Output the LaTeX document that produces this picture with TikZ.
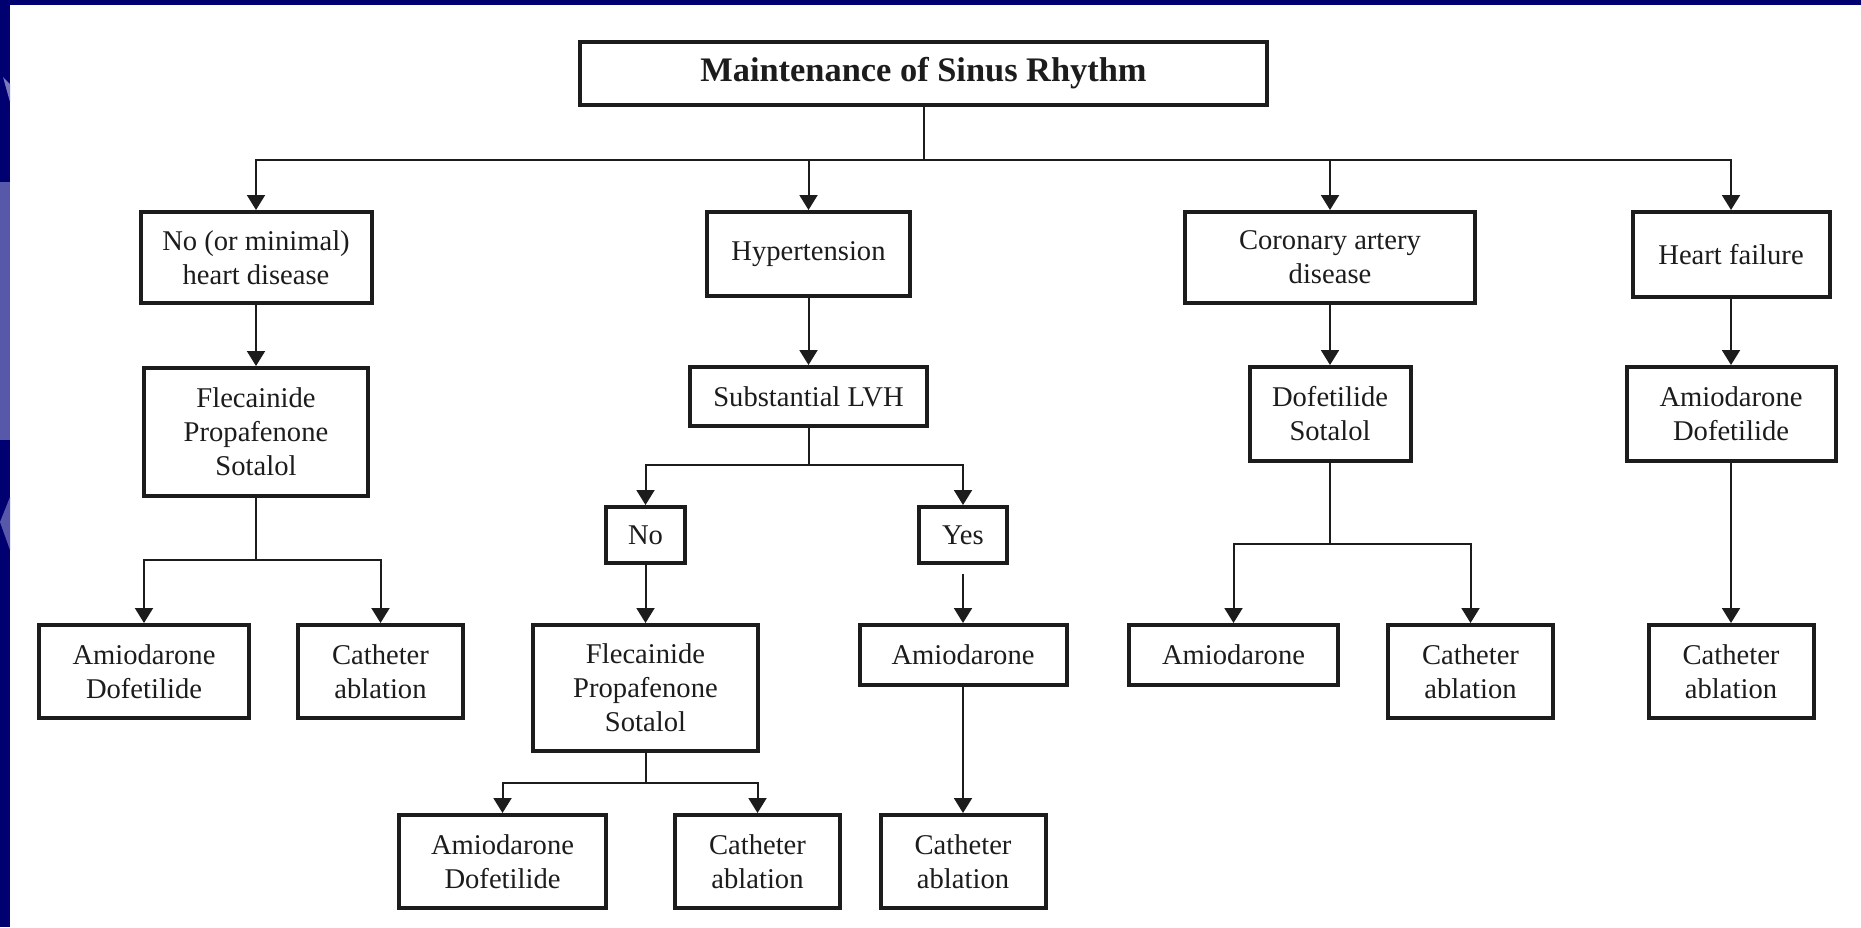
\documentclass[tikz,border=0pt]{standalone}
\usepackage{fontspec}
\setmainfont{Liberation Serif}
\usetikzlibrary{arrows.meta,positioning}
\definecolor{navy}{RGB}{0,0,112}
\definecolor{periwinkle}{RGB}{88,88,170}
\definecolor{ink}{RGB}{28,28,28}

\begin{document}
\begin{tikzpicture}[x=0.5pt, y=-0.5pt,
  every node/.style={font=\fontsize{14.3}{17}\selectfont, text=ink},
  box/.style={draw=ink, rectangle, line width=2pt, align=center, inner sep=0pt},
  wh/.style 2 args={minimum width=#1*0.5pt, minimum height=#2*0.5pt},
  link/.style={draw=ink, line width=1pt},
  arr/.style={link, -{Triangle[width=9pt,length=7.5pt]}}]
\useasboundingbox (0,0) rectangle (1861,927);
\fill[white] (0,0) rectangle (1861,927);
\fill[navy] (0,0) rectangle (1861,5);
\fill[navy] (0,0) rectangle (10,927);
\fill[periwinkle] (0,182) rectangle (10,440);
\fill[periwinkle!80] (3,77) -- (10,84) -- (10,102) -- cycle;
\fill[periwinkle] (10,497) -- (0,522) -- (10,550) -- cycle;

\node[box, wh={687}{63}, font=\bfseries\fontsize{17.2}{20}\selectfont] (title) at (923.5,73.5) {Maintenance of Sinus Rhythm};

\node[box, wh={231}{91}] (nomin) at (256,257.5) {No (or minimal)\\heart disease};
\node[box, wh={203}{84}] (hyper) at (808.5,254) {Hypertension};
\node[box, wh={290}{91}] (cad) at (1330,257.5) {Coronary artery\\disease};
\node[box, wh={197}{85}] (hf) at (1731,254.5) {Heart failure};

\node[box, wh={224}{128}] (fleA) at (256,432) {Flecainide\\Propafenone\\Sotalol};
\node[box, wh={237}{59}] (lvh) at (808.5,396.5) {Substantial LVH};
\node[box, wh={161}{94}] (dofsot) at (1330,414) {Dofetilide\\Sotalol};
\node[box, wh={209}{94}] (amidofHF) at (1731,414) {Amiodarone\\Dofetilide};

\node[box, wh={210}{93}] (amidofA) at (144,671.5) {Amiodarone\\Dofetilide};
\node[box, wh={165}{93}] (cathA) at (380.5,671.5) {Catheter\\ablation};
\node[box, wh={79}{56}] (no) at (645.5,535) {No};
\node[box, wh={88}{56}] (yes) at (963,535) {Yes};
\node[box, wh={225}{126}] (fleB) at (645.5,688) {Flecainide\\Propafenone\\Sotalol};
\node[box, wh={207}{60}] (amioY) at (963,655) {Amiodarone};
\node[box, wh={209}{60}] (amioC) at (1233.5,655) {Amiodarone};
\node[box, wh={165}{93}] (cathC) at (1470.5,671.5) {Catheter\\ablation};
\node[box, wh={165}{93}] (cathHF) at (1731,671.5) {Catheter\\ablation};

\node[box, wh={207}{93}] (amidofB) at (502.5,861.5) {Amiodarone\\Dofetilide};
\node[box, wh={165}{93}] (cathB) at (757.5,861.5) {Catheter\\ablation};
\node[box, wh={165}{93}] (cathY) at (963,861.5) {Catheter\\ablation};

\coordinate (bus) at (0,160);
\coordinate (splitA) at (0,560);
\coordinate (splitH) at (0,465);
\coordinate (splitC) at (0,544);
\coordinate (splitN) at (0,783);

\draw[link] (title.south) -- (title.south |- bus);
\foreach \n in {nomin,hyper,cad,hf}
  \draw[arr] (title.south |- bus) -| (\n.north);

\draw[arr] (nomin.south) -- (fleA.north);
\draw[arr] (hyper.south) -- (lvh.north);
\draw[arr] (cad.south) -- (dofsot.north);
\draw[arr] (hf.south) -- (amidofHF.north);

\draw[link] (fleA.south) -- (fleA.south |- splitA);
\draw[arr] (fleA.south |- splitA) -| (amidofA.north);
\draw[arr] (fleA.south |- splitA) -| (cathA.north);

\draw[link] (lvh.south) -- (lvh.south |- splitH);
\draw[arr] (lvh.south |- splitH) -| (no.north);
\draw[arr] (lvh.south |- splitH) -| (yes.north);
\draw[arr] (no.south) -- (fleB.north);
\draw[arr, shorten <=4.5pt] (yes.south) -- (amioY.north);

\draw[link] (fleB.south) -- (fleB.south |- splitN);
\draw[arr] (fleB.south |- splitN) -| (amidofB.north);
\draw[arr] (fleB.south |- splitN) -| (cathB.north);
\draw[arr] (amioY.south) -- (cathY.north);

\draw[link] (dofsot.south) -- (dofsot.south |- splitC);
\draw[arr] (dofsot.south |- splitC) -| (amioC.north);
\draw[arr] (dofsot.south |- splitC) -| (cathC.north);

\draw[arr] (amidofHF.south) -- (cathHF.north);
\end{tikzpicture}
\end{document}
